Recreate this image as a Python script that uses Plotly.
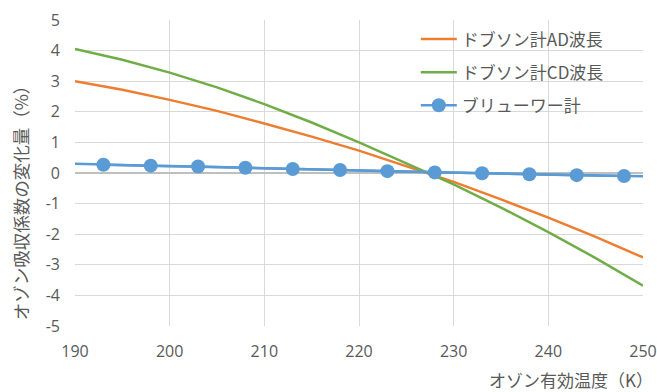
import plotly.graph_objects as go

# Temperatures (K)
temps = [190, 195, 200, 205, 210, 215, 220, 225, 230, 235, 240, 245, 250]
# Dobson AD wavelength (%)
dobson_ad = [3.00, 2.72, 2.39, 2.03, 1.62, 1.19, 0.73, 0.23, -0.29, -0.86, -1.46, -2.09, -2.76]
# Dobson CD wavelength (%)
dobson_cd = [4.05, 3.70, 3.28, 2.80, 2.25, 1.65, 1.00, 0.32, -0.37, -1.13, -1.93, -2.78, -3.68]
# Brewer line (%)
brewer_line_t = [190, 193, 198, 203, 208, 213, 218, 223, 228, 233, 238, 243, 248, 250]
brewer_line_v = [0.30, 0.27, 0.24, 0.21, 0.17, 0.13, 0.10, 0.06, 0.02, -0.01, -0.04, -0.07, -0.10, -0.11]
# Brewer markers
brewer_t = [193, 198, 203, 208, 213, 218, 223, 228, 233, 238, 243, 248]
brewer_v = [0.27, 0.24, 0.21, 0.17, 0.13, 0.10, 0.06, 0.02, -0.01, -0.04, -0.07, -0.10]

series_names = ["ドブソン計AD波長", "ドブソン計CD波長", "ブリューワー計"]
x_ticks = [190, 200, 210, 220, 230, 240, 250]
y_ticks = [5, 4, 3, 2, 1, 0, -1, -2, -3, -4, -5]
y_tick_text = ["5", "4", "3", "2", "1", "0", "-1", "-2", "-3", "-4", "-5"]

ORANGE = "#ED7D31"
GREEN = "#70AD47"
BLUE = "#5B9BD5"
TEXT = "#595959"
GRID = "#D9D9D9"
FONT = "Noto Sans CJK JP"
NUMFONT = "Open Sans"

fig = go.Figure()
fig.add_trace(go.Scatter(x=temps, y=dobson_ad, mode="lines", name=series_names[0],
                         line=dict(color=ORANGE, width=2.5), legendgroup="a"))
fig.add_trace(go.Scatter(x=temps, y=dobson_cd, mode="lines", name=series_names[1],
                         line=dict(color=GREEN, width=2.5), legendgroup="b"))
fig.add_trace(go.Scatter(x=brewer_line_t, y=brewer_line_v, mode="lines", showlegend=False,
                         line=dict(color=BLUE, width=2.5), hoverinfo="skip"))
fig.add_trace(go.Scatter(x=brewer_t, y=brewer_v, mode="lines+markers", name=series_names[2],
                         line=dict(color=BLUE, width=2.5),
                         marker=dict(color=BLUE, size=14), legendgroup="c"))

fig.update_layout(
    width=657, height=392,
    margin=dict(l=75, r=14, t=20, b=66, autoexpand=False),
    paper_bgcolor="white", plot_bgcolor="white",
    font=dict(family=FONT, color=TEXT, size=16),
    showlegend=True,
    legend=dict(x=0.60, y=0.995, xanchor="left", yanchor="top", itemwidth=36,
                bgcolor="rgba(0,0,0,0)", font=dict(size=17, color=TEXT),
                traceorder="grouped", tracegroupgap=8),
    xaxis=dict(range=[190, 250], tickvals=x_ticks, showgrid=True, gridcolor=GRID,
               gridwidth=1, zeroline=False, showline=False, ticks="", automargin=False,
               ticklabelstandoff=14, tickfont=dict(size=16, color=TEXT, family=NUMFONT)),
    yaxis=dict(range=[-5, 5], tickvals=y_ticks, ticktext=y_tick_text, showgrid=True,
               gridcolor=GRID, gridwidth=1, zeroline=True, zerolinecolor="#BFBFBF",
               zerolinewidth=1.5, showline=False, ticks="", ticklabelstandoff=14,
               automargin=False, tickfont=dict(size=16, color=TEXT, family=NUMFONT)),
    annotations=[
        dict(text="オゾン有効温度（K）", xref="paper", yref="paper", x=1.021, y=-0.176,
             xanchor="right", yanchor="middle", showarrow=False,
             font=dict(size=17, color=TEXT, family=FONT)),
        dict(text="オゾン吸収係数の変化量（%）", xref="paper", yref="paper", x=-0.097, y=0.417,
             xanchor="center", yanchor="middle", textangle=-90, showarrow=False,
             font=dict(size=17.5, color=TEXT, family=FONT)),
    ],
)

fig.write_html("out.html", config={"displayModeBar": False},
               post_script="document.body.style.margin='0';document.body.style.overflow='hidden';")
